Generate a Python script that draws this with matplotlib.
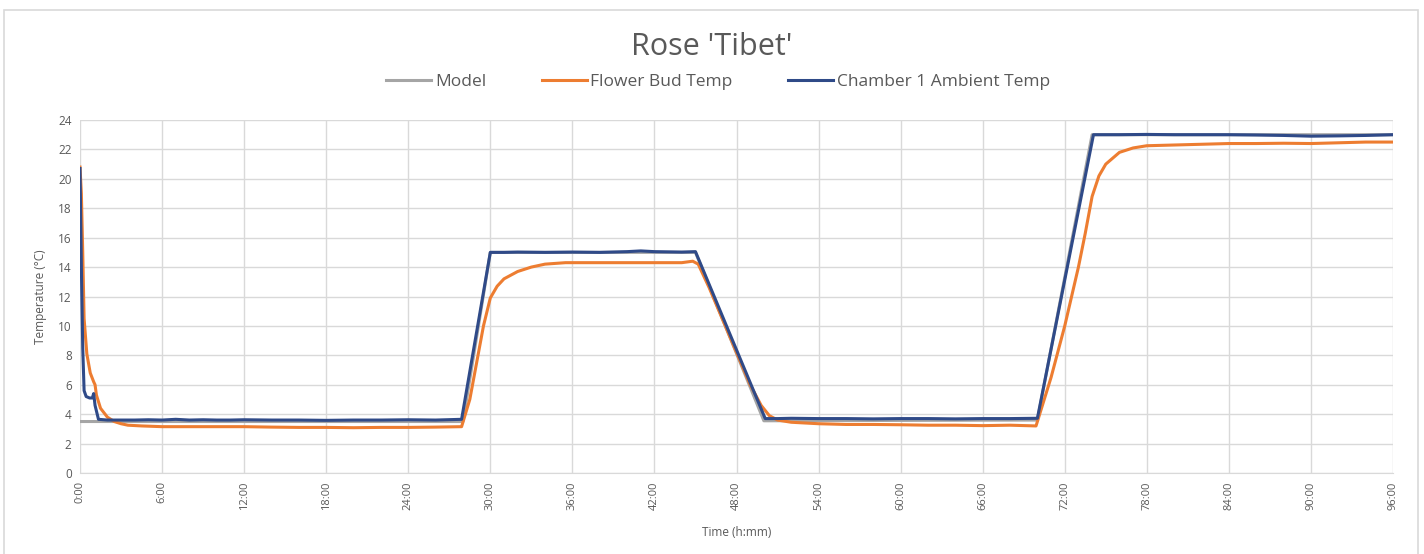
import matplotlib
matplotlib.use("Agg")
import matplotlib.pyplot as plt
from matplotlib.patches import Rectangle

# data (hours, deg C)
model_t = [0, 28, 30, 45, 50, 70, 74, 96]
model_v = [3.5, 3.5, 15, 15, 3.55, 3.6, 23, 23]

chamber_t = [0, 0.1, 0.2, 0.3, 0.45, 0.7, 0.9, 1.0, 1.1, 1.35, 2, 3, 4, 5, 6, 7, 8, 9, 10, 11,
             12, 14, 16, 18, 20, 22, 24, 26, 27.9, 30.0, 31, 32, 34, 36, 38, 40, 41, 42, 44, 45.0,
             50.1, 51, 52, 54, 56, 58, 60, 62, 64, 66, 68, 70.0, 74.1, 75, 76, 78, 80, 82, 84, 86,
             88, 90, 92, 94, 96]
chamber_v = [20.7, 14, 8.5, 5.6, 5.2, 5.1, 5.1, 5.4, 4.6, 3.65, 3.6, 3.6, 3.6, 3.62, 3.6, 3.65, 3.6, 3.62, 3.6, 3.6,
             3.62, 3.6, 3.6, 3.58, 3.6, 3.6, 3.62, 3.6, 3.65, 15.0, 15.0, 15.02, 15.0, 15.02, 15.0, 15.05, 15.1, 15.05, 15.02, 15.05,
             3.7, 3.7, 3.72, 3.7, 3.7, 3.68, 3.7, 3.7, 3.68, 3.7, 3.7, 3.72, 23.0, 23.0, 23.0, 23.02, 23.0, 23.0, 23.0, 22.98,
             22.95, 22.9, 22.92, 22.95, 23.0]

bud_t = [0, 0.1, 0.2, 0.3, 0.5, 0.75, 1.0, 1.1, 1.2, 1.5, 2.0, 2.5, 3.0, 3.5, 4.5, 6, 8, 10, 12, 14,
         16, 18, 20, 22, 24, 26, 27.9, 28.5, 29.0, 29.5, 30.0, 30.5, 31, 32, 33, 34, 35.5, 38, 40, 42,
         44, 44.8, 45.2, 46, 47, 48, 49, 49.8, 50.4, 51, 52, 54, 56, 58, 60, 62, 64, 66, 68, 69.9,
         71, 72, 73, 73.5, 74, 74.5, 75, 76, 77, 78, 80, 82, 84, 86, 88, 90, 92, 94, 96]
bud_v = [20.8, 19.0, 15.0, 10.5, 8.1, 6.8, 6.2, 6.0, 5.3, 4.4, 3.8, 3.5, 3.35, 3.25, 3.2, 3.15, 3.15, 3.15, 3.15, 3.12,
         3.1, 3.1, 3.08, 3.1, 3.1, 3.12, 3.15, 5.0, 7.5, 10.0, 11.9, 12.7, 13.2, 13.7, 14.0, 14.2, 14.3, 14.3, 14.3, 14.3,
         14.3, 14.4, 14.2, 12.6, 10.4, 8.2, 6.0, 4.6, 3.9, 3.6, 3.45, 3.35, 3.3, 3.3, 3.28, 3.25, 3.25, 3.22, 3.25, 3.2,
         6.5, 10.0, 14.0, 16.3, 18.8, 20.2, 21.0, 21.8, 22.1, 22.25, 22.3, 22.35, 22.4, 22.4, 22.42, 22.4, 22.45, 22.5, 22.5]

x_ticks = list(range(0, 97, 6))
x_labels = [f"{h}:00" for h in x_ticks]
y_ticks = list(range(0, 25, 2))

text_col = "#595959"
grid_col = "#D9D9D9"
plt.rcParams["font.family"] = ["Open Sans", "DejaVu Sans"]

fig = plt.figure(figsize=(14.24, 5.54), dpi=100)
fig.patches.append(Rectangle((4 / 1424, -0.01), 1414 / 1424, 1 - 10 / 554 + 0.01,
                             transform=fig.transFigure, fill=False, edgecolor=grid_col, linewidth=1.2))
ax = fig.add_axes([80 / 1424, 1 - 473 / 554, 1313 / 1424, 353 / 554])

ax.plot(model_t, model_v, color="#A5A5A5", lw=2.2, label="Model")
ax.plot(bud_t, bud_v, color="#ED7D31", lw=2.2, label="Flower Bud Temp")
ax.plot(chamber_t, chamber_v, color="#2F4A88", lw=2.2, label="Chamber 1 Ambient Temp")

ax.set_xlim(0, 96)
ax.set_ylim(0, 24)
ax.set_xticks(x_ticks)
ax.set_xticklabels(x_labels, rotation=90, fontsize=8, color=text_col)
ax.set_yticks(y_ticks)
ax.set_yticklabels([str(v) for v in y_ticks], fontsize=8.5, color=text_col)
ax.tick_params(length=0, pad=6)
ax.grid(True, color=grid_col, lw=1.0)
ax.set_axisbelow(True)
for side in ("top", "right", "left"):
    ax.spines[side].set_visible(False)
ax.spines["bottom"].set_color(grid_col)

ax.set_xlabel("Time (h:mm)", fontsize=8.5, color=text_col, labelpad=12)
ax.set_ylabel("Temperature (°C)", fontsize=8.5, color=text_col, labelpad=8)

fig.text(0.5, 1 - 47 / 554, "Rose 'Tibet'", ha="center", va="center", fontsize=22, color=text_col)
fig.legend(loc="center", bbox_to_anchor=(718 / 1424, 1 - 82 / 554), ncol=3, frameon=False,
           fontsize=12.5, handlelength=2.6, handletextpad=0.2, columnspacing=3.2, labelcolor=text_col)

fig.savefig("out.png", dpi=100, facecolor="white")
